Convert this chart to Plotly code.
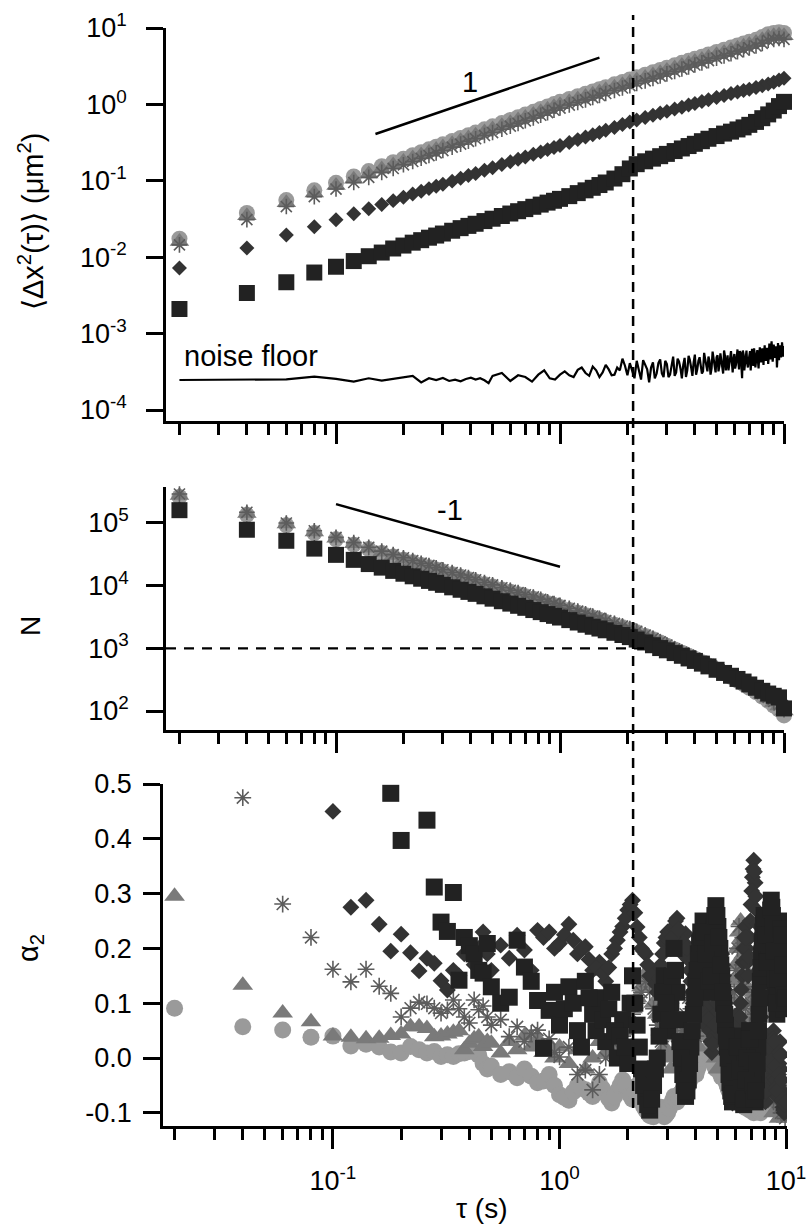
import numpy as np
import plotly.graph_objects as go

# ---------------- data ----------------
# lag times for MSD and N panels (s)
tau = [0.02,0.04,0.06,0.08,0.10,0.12,0.14,0.16,0.18,0.20,
       0.22,0.24,0.26,0.28,0.30,0.33,0.36,0.39,0.42,0.46,
       0.50,0.55,0.60,0.65,0.70,0.76,0.82,0.88,0.94,1.0,
       1.1,1.2,1.3,1.4,1.5,1.6,1.75,1.9,2.05,2.2,
       2.4,2.6,2.8,3.0,3.25,3.5,3.75,4.0,4.3,4.6,
       5.0,5.4,5.8,6.2,6.6,7.0,7.5,8.0,8.5,9.0,
       9.5,10.0]

# MSD <dx^2(tau)> (um^2)
msd_circ = [0.0175,0.038,0.056,0.075,0.094,0.114,0.134,0.155,0.175,0.195,
            0.216,0.237,0.258,0.279,0.300,0.332,0.364,0.396,0.428,0.472,
            0.516,0.57,0.625,0.68,0.735,0.80,0.87,0.94,1.01,1.08,
            1.18,1.28,1.38,1.48,1.58,1.68,1.83,1.97,2.12,2.26,
            2.45,2.64,2.83,3.02,3.25,3.5,3.72,3.95,4.22,4.5,
            4.85,5.2,5.55,5.9,6.25,6.6,7.0,7.6,8.3,8.6,
            8.8,8.6]
msd_tri = [0.0161,0.035,0.0515,0.069,0.0865,0.105,0.123,0.143,0.161,0.179,
           0.199,0.218,0.237,0.257,0.276,0.305,0.335,0.364,0.394,0.434,
           0.475,0.525,0.575,0.625,0.676,0.736,0.80,0.865,0.93,0.99,
           1.085,1.18,1.27,1.36,1.45,1.55,1.68,1.81,1.95,2.08,
           2.25,2.43,2.6,2.78,2.99,3.22,3.42,3.63,3.88,4.14,
           4.46,4.78,5.1,5.43,5.75,6.07,6.44,7.0,7.6,7.9,
           8.1,7.9]
msd_ast = [0.0145,0.031,0.046,0.062,0.078,0.095,0.111,0.129,0.145,0.162,
           0.179,0.197,0.214,0.232,0.249,0.276,0.302,0.329,0.355,0.392,
           0.428,0.473,0.519,0.564,0.61,0.664,0.722,0.78,0.838,0.896,
           0.98,1.06,1.145,1.23,1.31,1.39,1.52,1.64,1.76,1.88,
           2.03,2.19,2.35,2.51,2.7,2.9,3.09,3.28,3.5,3.74,
           4.03,4.32,4.6,4.9,5.19,5.48,5.81,6.3,6.9,7.1,
           7.3,7.1]
msd_dia = [0.0072,0.0132,0.0195,0.025,0.031,0.037,0.043,0.049,0.055,0.061,
           0.067,0.073,0.079,0.085,0.090,0.099,0.108,0.117,0.125,0.137,
           0.148,0.163,0.177,0.191,0.205,0.222,0.239,0.256,0.273,0.29,
           0.318,0.346,0.375,0.40,0.43,0.46,0.50,0.545,0.59,0.625,
           0.675,0.72,0.77,0.81,0.87,0.92,0.98,1.03,1.09,1.15,
           1.23,1.31,1.39,1.45,1.52,1.58,1.66,1.75,1.85,1.95,
           2.08,2.2]
msd_sq = [0.0021,0.0034,0.0047,0.0063,0.0075,0.0089,0.0103,0.0115,0.0130,0.0142,
          0.0155,0.0167,0.0180,0.0192,0.0204,0.0222,0.0240,0.0257,0.0274,0.0297,
          0.0319,0.0346,0.0373,0.0400,0.0426,0.0457,0.0488,0.0518,0.0548,0.058,
          0.063,0.069,0.075,0.081,0.088,0.095,0.107,0.122,0.145,0.165,
          0.18,0.195,0.21,0.225,0.245,0.265,0.285,0.305,0.33,0.355,
          0.385,0.415,0.44,0.47,0.50,0.54,0.59,0.66,0.74,0.83,
          0.95,1.08]

# number of displacements N
n_circ = [2.6e5,1.35e5,9.2e4,6.9e4,5.5e4,4.5e4,3.83e4,3.32e4,2.93e4,2.6e4,
          2.36e4,2.14e4,1.97e4,1.81e4,1.68e4,1.52e4,1.39e4,1.26e4,1.17e4,1.05e4,
          9.7e3,8.7e3,8.0e3,7.3e3,6.75e3,6.2e3,5.67e3,5.22e3,4.9e3,4.56e3,
          4.1e3,3.7e3,3.37e3,3.09e3,2.85e3,2.64e3,2.38e3,2.17e3,1.98e3,1.8e3,
          1.58e3,1.4e3,1.24e3,1.1e3,960,850,760,680,600,530,
          460,400,350,305,268,235,200,170,145,122,
          105,85]
n_tri = [2.75e5,1.42e5,9.6e4,7.2e4,5.7e4,4.65e4,3.95e4,3.42e4,3.02e4,2.68e4,
         2.43e4,2.2e4,2.03e4,1.86e4,1.73e4,1.56e4,1.43e4,1.3e4,1.2e4,1.08e4,
         1.0e4,8.95e3,8.2e3,7.5e3,6.95e3,6.4e3,5.85e3,5.38e3,5.05e3,4.7e3,
         4.22e3,3.8e3,3.47e3,3.18e3,2.93e3,2.71e3,2.44e3,2.22e3,2.02e3,1.84e3,
         1.61e3,1.42e3,1.26e3,1.12e3,975,865,775,695,615,545,
         475,415,365,320,282,250,215,185,160,137,
         120,100]
n_ast = [2.9e5,1.48e5,1.0e5,7.5e4,5.9e4,4.85e4,4.1e4,3.55e4,3.13e4,2.78e4,
         2.52e4,2.28e4,2.1e4,1.93e4,1.79e4,1.62e4,1.48e4,1.35e4,1.24e4,1.12e4,
         1.03e4,9.25e3,8.45e3,7.75e3,7.15e3,6.6e3,6.05e3,5.55e3,5.2e3,4.85e3,
         4.35e3,3.92e3,3.57e3,3.27e3,3.01e3,2.78e3,2.5e3,2.27e3,2.06e3,1.87e3,
         1.63e3,1.44e3,1.27e3,1.13e3,980,870,780,700,620,550,
         480,420,370,325,287,255,220,190,165,142,
         125,105]
n_dia = [1.68e5,8.1e4,5.4e4,4.05e4,3.22e4,2.68e4,2.3e4,2.02e4,1.79e4,1.61e4,
         1.47e4,1.34e4,1.24e4,1.15e4,1.07e4,9.8e3,8.95e3,8.25e3,7.7e3,7.0e3,
         6.45e3,5.85e3,5.37e3,4.96e3,4.6e3,4.24e3,3.93e3,3.66e3,3.43e3,3.22e3,
         2.93e3,2.68e3,2.47e3,2.3e3,2.15e3,2.02e3,1.84e3,1.7e3,1.57e3,1.44e3,
         1.29e3,1.16e3,1.05e3,965,870,790,715,655,590,535,
         470,420,378,338,305,275,244,218,197,180,
         165,130]
n_sq = [1.6e5,7.8e4,5.2e4,3.9e4,3.1e4,2.58e4,2.21e4,1.94e4,1.72e4,1.55e4,
        1.41e4,1.29e4,1.19e4,1.11e4,1.03e4,9.4e3,8.6e3,7.95e3,7.4e3,6.75e3,
        6.2e3,5.64e3,5.17e3,4.77e3,4.43e3,4.08e3,3.78e3,3.52e3,3.3e3,3.1e3,
        2.82e3,2.58e3,2.38e3,2.21e3,2.07e3,1.94e3,1.77e3,1.63e3,1.51e3,1.38e3,
        1.24e3,1.12e3,1.01e3,930,840,760,690,630,570,515,
        455,405,365,325,295,265,235,210,190,175,
        165,110]

# lag times for the non-Gaussian parameter and the noise floor (s)
tau2 = [0.02,0.04,0.06,0.08,0.10,0.12,0.14,0.16,0.18,0.20,0.22,0.24,0.26,0.28,0.30,
        0.32,0.34,0.36,0.38,0.40,0.42,0.44,0.46,0.48,0.50,
        0.55,0.60,0.65,0.70,0.75,0.80,0.85,0.90,0.95,1.00,
        1.1,1.2,1.3,1.4,1.5,1.6,1.7,1.8,1.9,2.0,
        2.1,2.2,2.3,2.4,2.5,2.6,2.7,2.8,2.9,3.0,
        3.1,3.2,3.3,3.4,3.5,3.6,3.7,3.8,3.9,4.0,
        4.1,4.2,4.3,4.4,4.5,4.6,4.7,4.8,4.9,5.0,
        5.1,5.2,5.3,5.4,5.5,5.6,5.7,5.8,5.9,6.0,
        6.1,6.2,6.3,6.4,6.5,6.6,6.7,6.8,6.9,7.0,
        7.1,7.2,7.3,7.4,7.5,7.6,7.7,7.8,7.9,8.0,
        8.1,8.2,8.3,8.4,8.5,8.6,8.7,8.8,8.9,9.0,
        9.1,9.2,9.3,9.4,9.5,9.6,9.7,9.8,9.9,10.0]
# extra lag times in the dense long-time region (s)
tau_mid = [1.05,1.15,1.25,1.35,1.45,1.55,1.65,1.75,1.85,1.95,
           2.05,2.15,2.25,2.35,2.45,2.55,2.65,2.75,2.85,2.95,
           3.05,3.15,3.25,3.35,3.45,3.55,3.65,3.75,3.85,3.95,
           4.05,4.15,4.25,4.35,4.45,4.55,4.65,4.75,4.85,4.95,
           5.05,5.15,5.25,5.35,5.45,5.55,5.65,5.75,5.85,5.95,
           6.05,6.15,6.25,6.35,6.45,6.55,6.65,6.75,6.85,6.95,
           7.05,7.15,7.25,7.35,7.45,7.55,7.65,7.75,7.85,7.95,
           8.05,8.15,8.25,8.35,8.45,8.55,8.65,8.75,8.85,8.95,
           9.05,9.15,9.25,9.35,9.45,9.55,9.65,9.75,9.85,9.95]

# noise floor MSD (um^2)
noise = [2.47e-4,2.47e-4,2.52e-4,2.74e-4,2.56e-4,2.35e-4,2.6e-4,2.42e-4,2.55e-4,2.7e-4,
         2.8e-4,2.3e-4,2.6e-4,2.47e-4,2.62e-4,2.4e-4,2.5e-4,2.38e-4,2.55e-4,2.65e-4,
         2.5e-4,2.6e-4,2.45e-4,2.25e-4,2.8e-4,
         3.05e-4,2.4e-4,2.85e-4,2.7e-4,2.35e-4,2.9e-4,3.3e-4,2.6e-4,2.5e-4,2.9e-4,
         2.85e-4,3.35e-4,3.05e-4,3.7e-4,2.7e-4,3.9e-4,2.85e-4,3.6e-4,4.7e-4,2.85e-4,
         3.35e-4,4.4e-4,2.5e-4,3.9e-4,2.3e-4,4.2e-4,3.0e-4,4.6e-4,2.7e-4,4.0e-4,
         2.9e-4,5.0e-4,3.1e-4,4.3e-4,2.6e-4,4.8e-4,3.3e-4,4.5e-4,2.8e-4,5.3e-4,
         3.4e-4,4.9e-4,3.0e-4,5.6e-4,3.6e-4,5.0e-4,2.9e-4,5.8e-4,3.7e-4,4.9e-4,
         3.2e-4,5.5e-4,3.5e-4,6.0e-4,3.3e-4,5.2e-4,3.8e-4,5.9e-4,3.1e-4,5.4e-4,
         3.9e-4,6.2e-4,3.4e-4,5.6e-4,2.6e-4,5.3e-4,4.0e-4,6.0e-4,3.6e-4,5.7e-4,
         3.3e-4,6.3e-4,3.8e-4,5.5e-4,4.1e-4,6.1e-4,3.5e-4,6.6e-4,4.2e-4,6.4e-4,
         3.9e-4,7.0e-4,4.4e-4,6.5e-4,4.0e-4,7.4e-4,4.6e-4,7.9e-4,4.3e-4,7.2e-4,
         4.8e-4,6.8e-4,3.6e-4,7.5e-4,4.5e-4,7.0e-4,4.9e-4,7.7e-4,5.0e-4,6.9e-4]
noise_mid = [3.2e-4,2.7e-4,3.6e-4,2.8e-4,3.3e-4,3.1e-4,3.4e-4,2.9e-4,3.3e-4,3.8e-4,
             4.1e-4,2.6e-4,3.2e-4,4.5e-4,3.4e-4,3.6e-4,2.6e-4,4.1e-4,3.0e-4,4.4e-4,
             2.7e-4,4.1e-4,2.8e-4,4.7e-4,3.5e-4,3.9e-4,2.7e-4,5.1e-4,3.6e-4,4.2e-4,
             2.9e-4,4.4e-4,3.8e-4,3.2e-4,4.6e-4,3.2e-4,4.4e-4,3.5e-4,4.5e-4,3.1e-4,
             5.2e-4,3.8e-4,4.6e-4,3.0e-4,5.1e-4,4.4e-4,3.3e-4,4.8e-4,3.6e-4,4.6e-4,
             3.5e-4,5.0e-4,4.3e-4,5.9e-4,3.9e-4,6.0e-4,3.3e-4,4.8e-4,4.1e-4,4.4e-4,
             5.9e-4,4.6e-4,4.2e-4,6.4e-4,3.6e-4,5.0e-4,4.4e-4,4.9e-4,5.4e-4,4.7e-4,
             5.2e-4,5.6e-4,4.9e-4,5.3e-4,6.0e-4,5.0e-4,5.3e-4,5.8e-4,6.2e-4,5.1e-4,
             5.8e-4,5.3e-4,6.0e-4,4.9e-4,6.3e-4,5.4e-4,6.1e-4,5.6e-4,6.4e-4,5.6e-4]

# non-Gaussian parameter alpha_2
a2_circ = [0.091,0.057,0.051,0.038,0.040,0.022,0.025,0.02,0.011,0.009,0.021,0.015,0.009,0.012,0.003,
           0.006,0.003,0.008,0.009,0.012,0.015,0.005,-0.01,-0.02,-0.015,
           -0.03,-0.025,-0.036,-0.02,-0.033,-0.045,-0.042,-0.03,-0.05,-0.067,
           -0.077,-0.05,-0.058,-0.07,-0.045,-0.065,-0.082,-0.06,-0.04,-0.06,
           -0.075,-0.05,-0.08,-0.095,-0.105,-0.107,-0.10,-0.09,-0.107,-0.10,
           -0.085,-0.07,-0.08,-0.065,-0.058,-0.045,-0.05,-0.035,-0.025,-0.03,
           -0.016,-0.005,0.005,0.01,0.015,0.01,0.0,-0.01,-0.02,-0.015,
           -0.025,-0.035,-0.027,-0.04,-0.05,-0.06,-0.055,-0.065,-0.07,-0.06,
           -0.07,-0.08,-0.075,-0.085,-0.077,-0.09,-0.08,-0.088,-0.095,-0.085,
           -0.09,-0.10,-0.09,-0.095,-0.085,-0.095,-0.10,-0.09,-0.095,-0.085,
           -0.08,-0.07,-0.06,-0.05,-0.04,-0.03,-0.02,-0.01,-0.03,-0.05,
           -0.07,-0.08,-0.09,-0.085,-0.09,-0.10,-0.09,-0.095,-0.10,-0.09]
a2_circ_mid = [-0.072,-0.062,-0.055,-0.064,-0.058,-0.056,-0.074,-0.07,-0.05,-0.05,
               -0.068,-0.062,-0.066,-0.088,-0.10,-0.106,-0.104,-0.095,-0.10,-0.104,
               -0.092,-0.078,-0.075,-0.072,-0.062,-0.052,-0.048,-0.042,-0.03,-0.028,
               -0.022,-0.01,0.0,0.008,0.012,0.012,0.005,-0.005,-0.015,-0.018,
               -0.02,-0.03,-0.031,-0.034,-0.045,-0.055,-0.058,-0.06,-0.068,-0.065,
               -0.065,-0.075,-0.078,-0.08,-0.081,-0.083,-0.085,-0.084,-0.092,-0.09,
               -0.088,-0.095,-0.095,-0.092,-0.09,-0.09,-0.098,-0.095,-0.092,-0.09,
               -0.082,-0.075,-0.065,-0.055,-0.045,-0.035,-0.025,-0.015,-0.02,-0.04,
               -0.06,-0.075,-0.085,-0.088,-0.088,-0.095,-0.095,-0.092,-0.098,-0.095]
a2_tri = [0.295,0.133,0.082,0.066,0.040,0.038,0.035,0.036,0.041,0.044,0.057,0.057,0.054,0.039,0.04,
          0.044,0.047,0.05,0.015,0.027,0.035,0.039,0.021,0.03,0.027,
          0.009,0.03,0.015,0.04,0.02,0.035,0.01,0.025,0.0,0.02,
          -0.01,0.015,-0.02,0.0,0.03,0.01,0.04,0.02,0.05,0.07,
          0.09,0.11,0.13,0.155,0.13,0.10,0.08,0.05,0.02,0.0,
          -0.02,0.01,0.04,0.07,0.05,0.02,0.0,0.03,0.06,0.04,
          0.02,0.04,0.06,0.08,0.10,0.07,0.05,0.02,0.0,-0.02,
          0.01,0.04,0.07,0.05,0.02,0.05,0.08,0.11,0.14,0.17,
          0.20,0.23,0.25,0.22,0.19,0.16,0.13,0.10,0.07,0.04,
          0.08,0.12,0.09,0.05,0.02,-0.01,-0.04,-0.06,-0.03,0.0,
          -0.03,-0.06,-0.08,-0.05,-0.02,-0.05,-0.08,-0.10,-0.07,-0.04,
          -0.07,-0.09,-0.11,-0.08,-0.05,-0.08,-0.10,-0.07,-0.10,-0.11]
a2_ast = [0.75,0.475,0.281,0.22,0.162,0.139,0.162,0.131,0.118,0.075,0.091,0.102,0.099,0.091,0.082,
          0.088,0.106,0.09,0.075,0.064,0.106,0.088,0.095,0.075,0.06,
          0.07,0.039,0.057,0.03,0.045,0.051,0.02,0.035,0.01,0.002,
          0.02,-0.03,-0.022,-0.058,-0.03,0.0,0.03,0.01,0.04,0.06,
          0.08,0.10,0.12,0.14,0.12,0.09,0.06,0.03,0.05,0.08,
          0.10,0.07,0.04,0.02,0.05,0.08,0.11,0.09,0.06,0.04,
          0.06,0.09,0.12,0.15,0.13,0.10,0.08,0.11,0.14,0.12,
          0.09,0.07,0.10,0.13,0.11,0.08,0.05,0.08,0.12,0.16,
          0.20,0.24,0.21,0.17,0.13,0.09,0.05,0.02,0.06,0.10,
          0.15,0.12,0.08,0.04,0.0,-0.03,0.0,0.03,0.0,-0.03,
          -0.06,-0.04,0.0,0.03,0.01,-0.02,-0.05,-0.08,-0.06,-0.03,
          0.0,-0.03,-0.06,-0.09,-0.10,-0.08,-0.05,-0.09,-0.11,-0.10]
a2_dia = [1.2,0.9,0.75,0.6,0.45,0.275,0.288,0.244,0.195,0.226,0.192,0.159,0.182,0.173,0.141,
          0.124,0.16,0.15,0.19,0.21,0.17,0.20,0.23,0.19,0.16,
          0.206,0.182,0.224,0.197,0.16,0.233,0.22,0.23,0.20,0.209,
          0.244,0.19,0.203,0.16,0.175,0.14,0.19,0.215,0.24,0.27,
          0.288,0.239,0.20,0.19,0.15,0.155,0.12,0.17,0.21,0.23,
          0.20,0.24,0.255,0.22,0.19,0.227,0.18,0.14,0.10,0.15,
          0.185,0.14,0.10,0.06,0.093,0.05,0.01,0.04,0.08,0.12,
          0.16,0.19,0.15,0.10,0.05,0.0,-0.05,-0.082,-0.04,0.02,
          0.08,0.05,0.10,0.15,0.20,0.24,0.20,0.15,0.22,0.28,
          0.33,0.361,0.32,0.27,0.22,0.16,0.10,0.05,0.0,-0.05,
          -0.08,-0.04,0.01,0.04,0.0,-0.03,0.02,0.05,0.01,-0.04,
          -0.07,-0.05,-0.01,0.03,-0.02,-0.06,-0.09,-0.10,-0.07,-0.09]
a2_dia_mid = [0.225,0.215,0.20,0.18,0.165,0.155,0.165,0.20,0.23,0.255,
              0.28,0.265,0.22,0.195,0.17,0.15,0.135,0.145,0.19,0.22,
              0.215,0.22,0.25,0.235,0.205,0.21,0.20,0.16,0.12,0.125,
              0.17,0.16,0.12,0.08,0.075,0.07,0.03,0.025,0.06,0.10,
              0.14,0.175,0.17,0.125,0.075,0.025,-0.025,-0.065,-0.06,-0.01,
              0.05,0.065,0.075,0.125,0.175,0.22,0.22,0.175,0.185,0.25,
              0.305,0.345,0.34,0.295,0.245,0.19,0.13,0.075,0.025,-0.025,
              -0.065,-0.06,-0.015,0.025,0.02,-0.015,-0.005,0.035,0.03,-0.015,
              -0.055,-0.06,-0.03,0.01,0.005,-0.04,-0.075,-0.095,-0.085,-0.08]
a2_sq = [1.5,1.1,0.9,0.8,0.72,0.66,0.6,0.56,0.483,0.397,0.58,0.55,0.434,0.312,0.248,
         0.231,0.302,0.142,0.22,0.205,0.19,0.16,0.155,0.209,0.13,
         0.10,0.111,0.215,0.166,0.14,0.105,0.018,0.087,0.12,0.06,
         0.13,0.05,0.14,0.08,0.11,0.03,0.12,0.0,0.07,-0.01,
         0.15,0.06,-0.02,-0.07,-0.095,-0.05,0.0,0.08,0.15,0.05,
         0.10,0.20,0.12,0.03,-0.03,-0.07,-0.04,0.02,0.08,0.14,
         0.19,0.23,0.25,0.21,0.17,0.12,0.18,0.24,0.278,0.24,
         0.20,0.15,0.10,0.06,0.02,-0.03,-0.06,-0.08,-0.05,0.0,
         0.04,0.0,-0.04,-0.07,-0.085,-0.06,-0.02,0.02,0.05,0.02,
         -0.03,-0.07,-0.08,-0.04,0.02,0.08,0.14,0.19,0.23,0.26,
         0.25,0.20,0.15,0.20,0.25,0.288,0.26,0.22,0.17,0.12,
         0.08,0.12,0.17,0.22,0.25,0.20,0.14,0.09,0.12,0.10]
a2_sq_mid = [0.09,0.10,0.02,0.11,0.05,0.07,0.09,0.05,0.04,0.02,
             0.10,0.10,0.02,-0.05,-0.085,-0.075,-0.02,0.04,0.12,0.10,
             0.07,0.15,0.16,0.07,0.0,-0.05,-0.06,-0.01,0.05,0.11,
             0.16,0.21,0.22,0.23,0.19,0.14,0.15,0.21,0.26,0.26,
             0.22,0.17,0.12,0.08,0.04,0.0,-0.045,-0.07,-0.065,-0.025,
             0.02,0.02,-0.02,-0.055,-0.08,-0.075,-0.04,0.0,0.035,0.035,
             -0.005,-0.05,-0.075,-0.06,-0.01,0.05,0.11,0.165,0.21,0.245,
             0.255,0.225,0.175,0.175,0.225,0.27,0.275,0.24,0.195,0.145,
             0.10,0.10,0.145,0.195,0.235,0.225,0.17,0.115,0.105,0.11]

# reference guides
tau_cut = 2.12                      # vertical dashed line (s)
n_cut = 1000                        # horizontal dashed line in N panel
n_cut_tau_end = 2.4
slope1_tau, slope1_msd = [0.15, 1.5], [0.41, 4.1]
slopem1_tau, slopem1_n = [0.1, 1.0], [2.0e5, 2.0e4]

y1_ticks = [1e-4, 1e-3, 1e-2, 1e-1, 1e0, 1e1]
y1_text = ["10<sup>-4</sup>", "10<sup>-3</sup>", "10<sup>-2</sup>", "10<sup>-1</sup>",
           "10<sup>0</sup>", "10<sup>1</sup>"]
y2_ticks = [1e2, 1e3, 1e4, 1e5]
y2_text = ["10<sup>2</sup>", "10<sup>3</sup>", "10<sup>4</sup>", "10<sup>5</sup>"]
y3_ticks = [-0.1, 0.0, 0.1, 0.2, 0.3, 0.4, 0.5]
y3_text = ["-0.1", "0.0", "0.1", "0.2", "0.3", "0.4", "0.5"]
x_ticks = [0.1, 1, 10]
x_text = ["10<sup>-1</sup>", "10<sup>0</sup>", "10<sup>1</sup>"]
x_minor = [m * 10.0 ** e for e in (-2, -1, 0) for m in range(2, 10)]

# ---------------- styling ----------------
FONT = "Liberation Sans, Arial, Helvetica, sans-serif"
TICK_FONT = dict(family=FONT, size=27, color="black")
C_CIRC, C_TRI, C_AST, C_DIA, C_SQ = "#9a9a9a", "#7a7a7a", "#5c5c5c", "#333333", "#222222"
styles = [
    dict(symbol="circle", color=C_CIRC, size=16),
    dict(symbol="triangle-up", color=C_TRI, size=17),
    dict(symbol="asterisk-open", color=C_AST, size=13),
    dict(symbol="diamond", color=C_DIA, size=11.5),
    dict(symbol="square", color=C_SQ, size=16),
]
styles_a2 = [
    dict(symbol="circle", color=C_CIRC, size=17),
    dict(symbol="triangle-up", color=C_TRI, size=18),
    dict(symbol="asterisk-open", color=C_AST, size=14),
    dict(symbol="diamond", color=C_DIA, size=13),
    dict(symbol="square", color=C_SQ, size=17),
]

fig = go.Figure()

def add_marks(x, y, st, xa, ya, clip):
    lw = 1.6 if "open" in st["symbol"] else 0
    fig.add_trace(go.Scatter(
        x=x, y=y, mode="markers", xaxis=xa, yaxis=ya, cliponaxis=clip,
        marker=dict(symbol=st["symbol"], color=st["color"], size=st["size"],
                    line=dict(width=lw, color=st["color"])),
        hoverinfo="skip", showlegend=False))

for ys, st in zip([msd_circ, msd_tri, msd_ast, msd_dia, msd_sq], styles):
    add_marks(tau, ys, st, "x", "y", False)
noise_pts = sorted(zip(tau2 + tau_mid, noise + noise_mid))
fig.add_trace(go.Scatter(x=[p[0] for p in noise_pts], y=[p[1] for p in noise_pts], mode="lines",
                         xaxis="x", yaxis="y", line=dict(color="black", width=2.2),
                         showlegend=False, hoverinfo="skip"))
fig.add_trace(go.Scatter(x=slope1_tau, y=slope1_msd, mode="lines", xaxis="x", yaxis="y",
                         line=dict(color="black", width=2.5), showlegend=False, hoverinfo="skip"))

for ys, st in zip([n_circ, n_tri, n_ast, n_dia, n_sq], styles):
    add_marks(tau, ys, st, "x2", "y2", False)
fig.add_trace(go.Scatter(x=slopem1_tau, y=slopem1_n, mode="lines", xaxis="x2", yaxis="y2",
                         line=dict(color="black", width=2.5), showlegend=False, hoverinfo="skip"))

a2_sets = [
    (tau2 + tau_mid, a2_circ + a2_circ_mid),
    (tau2, a2_tri),
    (tau2, a2_ast),
    (tau2 + tau_mid, a2_dia + a2_dia_mid),
    (tau2 + tau_mid, a2_sq + a2_sq_mid),
]
for (xs, ys), st in zip(a2_sets, styles_a2):
    add_marks(xs, ys, st, "x3", "y3", True)

# ---------------- layout ----------------
ML, MR, MT, MB = 163, 25, 28, 104
W, H = 812, 1230
pw = W - ML - MR
ph = H - MT - MB
dx = [(166 - ML) / pw, (784 - ML) / pw]
xr_top = [-1.759, 1.0]

fig.add_trace(go.Scatter(x=[10 ** xr_top[0], n_cut_tau_end], y=[n_cut, n_cut], mode="lines",
                         xaxis="x2", yaxis="y2", line=dict(color="black", width=2.2, dash="10px,8px"),
                         showlegend=False, hoverinfo="skip"))

axis_line = dict(showline=True, linecolor="black", linewidth=2.5, showgrid=False, zeroline=False,
                 ticks="outside", tickcolor="black", tickwidth=2.5, automargin=False,
                 tickfont=TICK_FONT)
xcommon = dict(type="log", tickmode="array", tickvals=x_ticks, ticklen=20,
               minor=dict(tickmode="array", tickvals=x_minor, ticks="outside", ticklen=11,
                          tickwidth=2.5, tickcolor="black", showgrid=False),
               **axis_line)

fig.update_layout(
    template="none",
    width=W, height=H, margin=dict(l=ML, r=MR, t=MT, b=MB, autoexpand=False),
    paper_bgcolor="white", plot_bgcolor="white", showlegend=False,
    font=dict(family=FONT, size=27, color="black"),
    xaxis=dict(domain=dx, range=xr_top, anchor="y", showticklabels=False, **xcommon),
    xaxis2=dict(domain=dx, range=xr_top, anchor="y2", showticklabels=False, **xcommon),
    xaxis3=dict(domain=[0, 1], range=[-1.75, 1.004], anchor="y3", ticktext=x_text,
                ticklabelstandoff=9, **xcommon),
    yaxis=dict(domain=[(H - MB - 421) / ph, 1.0], type="log", range=[-4.144, 1.0], anchor="x",
               tickmode="array", tickvals=y1_ticks, ticktext=y1_text, ticklen=17,
               ticklabelstandoff=14, **axis_line),
    yaxis2=dict(domain=[(H - MB - 730) / ph, (H - MB - 487) / ph], type="log", range=[1.697, 5.574],
                anchor="x2", tickmode="array", tickvals=y2_ticks, ticktext=y2_text, ticklen=17,
                ticklabelstandoff=12, **axis_line),
    yaxis3=dict(domain=[0, (H - MB - 784) / ph], range=[-0.124, 0.5], anchor="x3",
                tickmode="array", tickvals=y3_ticks, ticktext=y3_text, ticklen=17,
                ticklabelstandoff=6, **axis_line),
)

def px_to_paper_x(px):
    return (px - ML) / pw

def px_to_paper_y(py):
    return (H - MB - py) / ph

annotations = [
    dict(text="\u27e8\u0394x<sup>2</sup>(\u03c4)\u27e9 (\u03bcm<sup>2</sup>)", textangle=-90,
         x=px_to_paper_x(31), y=px_to_paper_y(222), font=dict(family=FONT, size=29)),
    dict(text="N", textangle=-90, x=px_to_paper_x(30), y=px_to_paper_y(626),
         font=dict(family=FONT, size=28)),
    dict(text="\u03b1<sub>2</sub>", textangle=-90, x=px_to_paper_x(30), y=px_to_paper_y(948),
         font=dict(family=FONT, size=29)),
    dict(text="\u03c4 (s)", x=px_to_paper_x(482), y=px_to_paper_y(1208),
         font=dict(family=FONT, size=28)),
]
for a in annotations:
    a.update(xref="paper", yref="paper", showarrow=False, xanchor="center", yanchor="middle")

annotations += [
    dict(text="1", xref="x", yref="y", x=np.log10(0.396), y=np.log10(1.96), showarrow=False,
         font=dict(family=FONT, size=29)),
    dict(text="-1", xref="x2", yref="y2", x=np.log10(0.323), y=np.log10(1.61e5), showarrow=False,
         font=dict(family=FONT, size=29)),
    dict(text="noise floor", xref="x", yref="y", x=np.log10(0.0205), y=-3.29, xanchor="left",
         yanchor="middle", showarrow=False, font=dict(family=FONT, size=29)),
]
fig.update_layout(annotations=annotations)

fig.add_shape(type="line", xref="x", yref="paper", x0=tau_cut, x1=tau_cut,
              y0=px_to_paper_y(1108), y1=px_to_paper_y(15),
              line=dict(color="black", width=2.5, dash="10px,7px"))

# remove the default page margin so the figure sits at the window's top-left corner
fig.write_html("out.html", config={"displayModeBar": False},
               post_script="document.body.style.margin='0';document.body.style.overflow='hidden';")
